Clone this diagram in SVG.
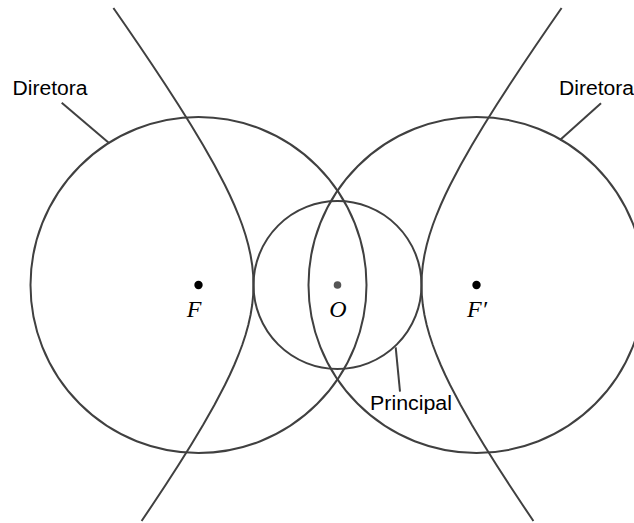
<svg xmlns="http://www.w3.org/2000/svg" width="634" height="523" viewBox="0 0 634 523">
<style>
.c{fill:none;stroke:#404040;stroke-width:2}
.l{fill:none;stroke:#404040;stroke-width:2}
.t{font-family:"Liberation Sans",Arial,sans-serif;font-size:20px;fill:#000}
.m{font-family:"Liberation Serif","Times New Roman",serif;font-style:italic;font-size:24px;fill:#000}
</style>
<rect width="634" height="523" fill="#fff"/>
<g id="diretora-F"><circle class="c" cx="198.5" cy="285" r="168"/></g>
<g id="diretora-F2"><circle class="c" cx="476.5" cy="285" r="168"/></g>
<g id="principal"><circle class="c" cx="337.5" cy="285" r="84"/></g>
<g id="hyperbola">
<path class="c" d="M113.41,8 L125.18,25 L138.87,45 L152.35,65 L165.58,85 L178.5,105 L191.02,125 L203.03,145 L214.39,165 L224.89,185 L229.74,195 L234.27,205 L238.44,215 L242.21,225 L245.51,235 L248.3,245 L250.54,255 L252.17,265 L253.17,275 L253.5,285 L253.17,295 L252.17,305 L250.54,315 L248.3,325 L245.51,335 L242.21,345 L238.44,355 L234.27,365 L229.74,375 L224.89,385 L214.39,405 L203.03,425 L191.02,445 L178.5,465 L165.58,485 L152.35,505 L141.58,521"/>
<path class="c" d="M561.59,8 L549.82,25 L536.13,45 L522.65,65 L509.42,85 L496.5,105 L483.98,125 L471.97,145 L460.61,165 L450.11,185 L445.26,195 L440.73,205 L436.56,215 L432.79,225 L429.49,235 L426.7,245 L424.46,255 L422.83,265 L421.83,275 L421.5,285 L421.83,295 L422.83,305 L424.46,315 L426.7,325 L429.49,335 L432.79,345 L436.56,355 L440.73,365 L445.26,375 L450.11,385 L460.61,405 L471.97,425 L483.98,445 L496.5,465 L509.42,485 L522.65,505 L533.42,521"/>
</g>
<g id="points">
<circle cx="198.5" cy="285" r="4.2" fill="#000"/>
<circle cx="337.5" cy="285" r="3.8" fill="#555"/>
<circle cx="476.5" cy="285" r="4.2" fill="#000"/>
<text class="m" x="194" y="316.5" text-anchor="middle">F</text>
<text class="m" x="338" y="316.5" text-anchor="middle">O</text>
<text class="m" x="477" y="316.5" text-anchor="middle">F′</text>
</g>
<g id="connectors">
<line class="l" x1="61.7" y1="102.7" x2="109.3" y2="143.3"/>
<line class="l" x1="601" y1="103.3" x2="560" y2="140"/>
<line class="l" x1="395.7" y1="347.3" x2="400" y2="391.7"/>
</g>
<g id="labels">
<text class="t" x="12.5" y="95" textLength="75" lengthAdjust="spacingAndGlyphs">Diretora</text>
<text class="t" x="559" y="95" textLength="75" lengthAdjust="spacingAndGlyphs">Diretora</text>
<text class="t" x="370" y="410" textLength="82" lengthAdjust="spacingAndGlyphs">Principal</text>
</g>
</svg>
